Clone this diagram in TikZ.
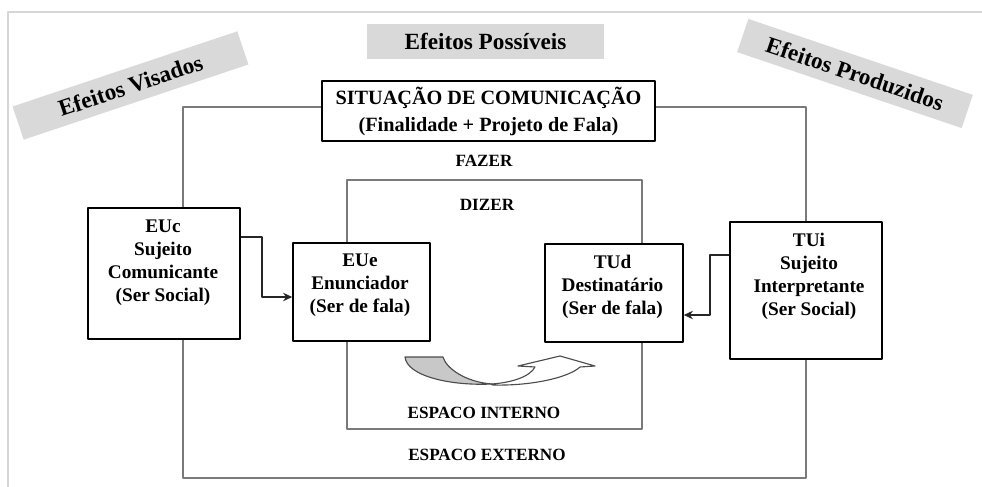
\documentclass[tikz,border=0pt]{standalone}
\usepackage{fontspec}
\setmainfont{Liberation Serif}
\usetikzlibrary{arrows.meta}
\definecolor{bandgray}{HTML}{D9D9D9}
\definecolor{framegray}{HTML}{7A7A7A}
\definecolor{edgegray}{HTML}{D6D6D6}
\definecolor{bendgray}{HTML}{C8C8C8}
\begin{document}
\begin{tikzpicture}[x=0.025cm, y=-0.025cm, line join=round, >={Stealth[length=6.5pt, width=6pt]},
	band/.style={fill=bandgray, inner sep=0pt, minimum width=237*\px, minimum height=35*\px, font=\bfseries\fontsize{16.5}{19}\selectfont},
	box/.style={draw, line width=1.1pt, fill=white, inner sep=0pt},
	boxtext/.style={align=center, font=\bfseries\fontsize{13.7}{16.4}\selectfont},
	tag/.style={font=\bfseries\fontsize{12.2}{14}\selectfont},
	space/.style={draw=framegray, line width=1.4pt},
	link/.style={->, line width=1pt, draw=black!85}]
			\def \px{0.025cm}
			\useasboundingbox (0,0) rectangle (982,487);
			\draw[edgegray, line width=1pt] (982,12)--(8,12)--(8,487);
			\draw[space] (183,107) rectangle (806,478);
			\draw[space] (347,180) rectangle (642,429);
			\node[band, rotate=18.5] (visados) at (130.5,85.5) {Efeitos Visados};
			\node[band] (possiveis) at (485.5,41.5) {Efeitos Possíveis};
			\node[band, rotate=-18.7] (produzidos) at (855,73.5) {Efeitos Produzidos};
			\node[box, minimum width=333*\px, minimum height=60*\px, align=center, font=\bfseries\fontsize{14.4}{19.2}\selectfont] (situacao) at (488.5,111) {SITUAÇÃO DE COMUNICAÇÃO\\(Finalidade + Projeto de Fala)};
			\node[tag] (fazer) at (484,161) {FAZER};
			\node[tag] (dizer) at (487,205) {DIZER};
			\node[tag] (interno) at (484,413) {ESPACO INTERNO};
			\node[tag] (externo) at (487,455) {ESPACO EXTERNO};
			% boxes
			\node[box, minimum width=152*\px, minimum height=131*\px] (euc) at (164,273.5) {};
			\node[boxtext] (euc-t) at (163,262.5) {EUc\\Sujeito\\Comunicante\\(Ser Social)};
			\node[box, minimum width=137*\px, minimum height=98*\px] (eue) at (361.5,292) {};
			\node[boxtext] (eue-t) at (360,285.5) {EUe\\Enunciador\\(Ser de fala)};
			\node[box, minimum width=138*\px, minimum height=98*\px] (tud) at (614,293) {};
			\node[boxtext] (tud-t) at (612.5,286.5) {TUd\\Destinatário\\(Ser de fala)};
			\node[box, minimum width=152*\px, minimum height=137*\px] (tui) at (806,290.5) {};
			\node[boxtext] (tui-t) at (809,276.5) {TUi\\Sujeito\\Interpretante\\(Ser Social)};
			\draw[link] (euc.east |- 0,237) -| (262,297) -- (eue.west |- 0,297);
			\draw[link] (tui.west |- 0,255) -| (710,315) -- (tud.east |- 0,315);
			% curved arrow
			\filldraw[fill=bendgray, draw=black!70, line width=0.8pt] (405,357)--(443,357) .. controls (446,368) and (465,382) .. (492,384) .. controls (450,386) and (407,376) .. (405,357)--cycle;
			\filldraw[fill=white, draw=black!70, line width=0.8pt] (491,384) .. controls (510,383) and (530,377) .. (535,367)--(518,366)--(560,356)--(595,366)--(580,367) .. controls (568,378) and (530,386) .. (493,385)--cycle;
			\end{tikzpicture}
\end{document}
